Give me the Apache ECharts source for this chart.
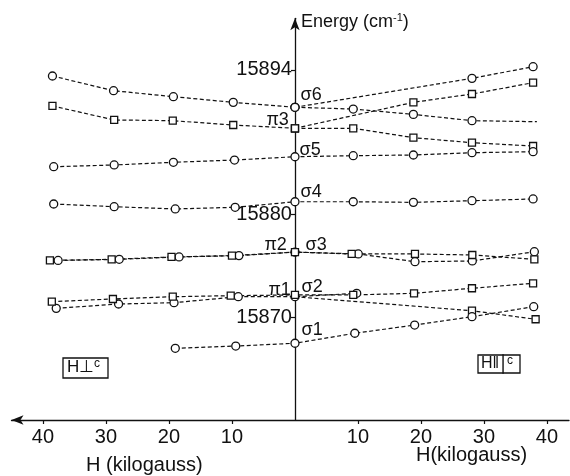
<!DOCTYPE html>
<html><head><meta charset="utf-8">
<script src="https://cdn.jsdelivr.net/npm/echarts@6/dist/echarts.min.js"></script>
<style>html,body{margin:0;padding:0;background:#fff}#c{width:570px;height:476px}</style>
</head><body><div id="c"></div>
<script>
// Tick values (negative H = left panel, H perpendicular c)
const xTicks = [-40, -30, -20, -10, 10, 20, 30, 40];
const yTicks = [15870, 15880, 15894];

// [H (kG), Energy (cm^-1)]
const sigma6Left = [[-38.5,15893.40],[-28.8,15891.97],[-19.3,15891.39],[-9.8,15890.84],[0,15890.36]];
const sigma6UpperRight = [[0,15890.36],[28.1,15893.17],[37.8,15894.30]];
const sigma6LowerRight = [[0,15890.36],[9.25,15890.19],[18.8,15889.67],[28.1,15889.06],[38.4,15888.96]];
const pi3Left = [[-38.5,15890.49],[-28.7,15889.13],[-19.4,15889.06],[-9.8,15888.64],[0,15888.32]];
const pi3UpperRight = [[0,15888.32],[18.8,15890.84],[28.1,15891.65],[37.8,15892.75]];
const pi3LowerRight = [[0,15888.32],[9.25,15888.32],[18.8,15887.41],[28.1,15886.92],[37.8,15886.60]];
const sigma5 = [[-38.3,15884.59],[-28.7,15884.76],[-19.3,15885.02],[-9.6,15885.24],[0,15885.56],[9.25,15885.66],[18.8,15885.73],[28.1,15885.95],[37.8,15886.05]];
const sigma4 = [[-38.3,15880.97],[-28.7,15880.71],[-19.0,15880.49],[-9.5,15880.65],[0,15881.19],[9.25,15881.19],[18.8,15881.13],[28.1,15881.29],[37.8,15881.46]];
const sigma3 = [[-37.6,15875.49],[-27.9,15875.60],[-18.4,15875.83],[-8.9,15875.96],[0,15876.30],[10.05,15876.12],[19.05,15875.37],[28.15,15875.44],[38.0,15876.34]];
const pi2 = [[-38.9,15875.49],[-29.1,15875.60],[-19.6,15875.83],[-10.0,15875.96],[0,15876.30],[9.0,15876.12],[19.05,15876.12],[28.15,15876.02],[38.0,15875.60]];
const pi1 = [[-38.6,15871.49],[-28.9,15871.75],[-19.4,15871.97],[-10.2,15872.07],[0,15872.14],[9.25,15872.14],[18.9,15872.30],[28.1,15872.79],[37.8,15873.27]];
const pi1LowerRight = [[0,15871.97],[28.1,15870.61],[38.2,15869.78]];
const sigma2 = [[-37.9,15870.84],[-28.0,15871.26],[-19.2,15871.39],[-9.0,15871.97],[0,15871.97],[9.8,15872.30]];
const sigma1 = [[-19.0,15866.96],[-9.4,15867.18],[0,15867.45],[9.5,15868.42],[19.0,15869.22],[28.1,15870.03],[37.9,15871.00]];

const FONT = 'Liberation Sans';
const INK = '#111';

function mk(name, data, shape, opts) {
  opts = opts || {};
  const items = data.map((p, i) => {
    const it = { value: p };
    if (opts.noMark && opts.noMark.indexOf(i) >= 0) it.symbol = 'none';
    if (opts.label && opts.label.idx === i) {
      it.label = {
        show: true, formatter: opts.label.text, position: opts.label.pos,
        distance: 2, offset: opts.label.off, color: INK,
        fontFamily: FONT, fontSize: 18
      };
    }
    return it;
  });
  return {
    name: name, type: 'line', data: items,
    symbol: shape === 'sq' ? 'rect' : 'circle',
    symbolSize: shape === 'sq' ? 7 : 8,
    showAllSymbol: true,
    itemStyle: { color: '#fff', borderColor: INK, borderWidth: 1.3 },
    lineStyle: { color: INK, width: 1.2, type: [4, 2.5] },
    emphasis: { disabled: true },
    animation: false, z: 3
  };
}

const series = [
  mk('σ6 left', sigma6Left, 'o', { label: { idx: 4, text: 'σ6', pos: 'right', off: [-1, -12] } }),
  mk('σ6 upper', sigma6UpperRight, 'o'),
  mk('σ6 lower', sigma6LowerRight, 'o', { noMark: [4] }),
  mk('π3 left', pi3Left, 'sq', { label: { idx: 4, text: 'π3', pos: 'left', off: [0, -8] } }),
  mk('π3 upper', pi3UpperRight, 'sq'),
  mk('π3 lower', pi3LowerRight, 'sq'),
  mk('σ5', sigma5, 'o', { label: { idx: 4, text: 'σ5', pos: 'right', off: [-2, -7] } }),
  mk('σ4', sigma4, 'o', { label: { idx: 4, text: 'σ4', pos: 'right', off: [-1, -10] } }),
  mk('σ3', sigma3, 'o', { label: { idx: 4, text: 'σ3', pos: 'right', off: [4, -7] } }),
  mk('π2', pi2, 'sq', { label: { idx: 4, text: 'π2', pos: 'left', off: [-2, -7] } }),
  mk('σ2', sigma2, 'o', { label: { idx: 4, text: 'σ2', pos: 'right', off: [0, -10] } }),
  mk('π1', pi1, 'sq', { label: { idx: 4, text: 'π1', pos: 'left', off: [2, -5] } }),
  mk('π1 lower', pi1LowerRight, 'sq', { noMark: [0] }),
  mk('σ1', sigma1, 'o', { label: { idx: 2, text: 'σ1', pos: 'right', off: [0, -13] } })
];

const GRID_LEFT = 11.5, GRID_W = 557.5, XMIN = -45, XMAX = 43.5;
// shift the y axis onto H = 0
const yAxisOffset = -(GRID_W * (0 - XMIN) / (XMAX - XMIN));

const chart = echarts.init(document.getElementById('c'), null, { renderer: 'canvas' });
chart.setOption({
  backgroundColor: '#fff',
  animation: false,
  textStyle: { fontFamily: FONT, color: INK },
  grid: { left: GRID_LEFT, top: 18.3, width: GRID_W, height: 401.7, containLabel: false, outerBoundsMode: 'none' },
  xAxis: {
    type: 'value', min: XMIN, max: XMAX,
    axisLine: { show: true, onZero: false, symbol: ['arrow', 'none'], symbolSize: [7, 12], lineStyle: { color: INK, width: 1.3 } },
    axisTick: { show: true, customValues: xTicks, length: 4, lineStyle: { color: INK, width: 1.2 } },
    axisLabel: { customValues: xTicks, formatter: v => String(Math.abs(v)), fontSize: 20, margin: 7, color: INK, fontFamily: FONT },
    splitLine: { show: false }
  },
  yAxis: {
    type: 'value', min: 15860, max: 15899, position: 'left', offset: yAxisOffset,
    axisLine: { show: true, onZero: false, symbol: ['none', 'arrow'], symbolSize: [7, 12], lineStyle: { color: INK, width: 1.3 } },
    axisTick: { show: true, customValues: yTicks, length: 4, lineStyle: { color: INK, width: 1.2 } },
    axisLabel: { customValues: yTicks, fontSize: 20, margin: 3, color: INK, fontFamily: FONT, formatter: v => String(v) },
    splitLine: { show: false },
    name: '{a|Energy (cm}{b|-1}{a|)}',
    nameLocation: 'end', nameGap: -4,
    nameTextStyle: {
      align: 'left', verticalAlign: 'middle', padding: [0, 0, 0, 6],
      rich: {
        a: { fontSize: 18, fontFamily: FONT, color: INK },
        b: { fontSize: 11, fontFamily: FONT, color: INK, verticalAlign: 'top', padding: [0, 0, 8, 0] }
      }
    }
  },
  graphic: [
    { type: 'text', left: 146 - 60, top: 455, style: { text: 'H (kilogauss)', font: '20px "Liberation Sans"', fill: INK } },
    { type: 'text', left: 472 - 56, top: 445, style: { text: 'H(kilogauss)', font: '20px "Liberation Sans"', fill: INK } },
    { type: 'rect', shape: { x: 63, y: 358, width: 45, height: 20 }, style: { fill: 'none', stroke: INK, lineWidth: 1.3 } },
    { type: 'text', left: 67, top: 359, style: { text: 'H⊥', font: '17px "Liberation Sans"', fill: INK } },
    { type: 'text', left: 94, top: 358, style: { text: 'c', font: '12px "Liberation Sans"', fill: INK } },
    { type: 'rect', shape: { x: 478, y: 355, width: 42, height: 18 }, style: { fill: 'none', stroke: INK, lineWidth: 1.3 } },
    { type: 'text', left: 481, top: 356, style: { text: 'H‖', font: '16px "Liberation Sans"', fill: INK } },
    { type: 'rect', shape: { x: 503, y: 355, width: 0.1, height: 18 }, style: { fill: 'none', stroke: INK, lineWidth: 1.3 } },
    { type: 'text', left: 507, top: 355, style: { text: 'c', font: '12px "Liberation Sans"', fill: INK } }
  ],
  series: series
});
</script></body></html>
